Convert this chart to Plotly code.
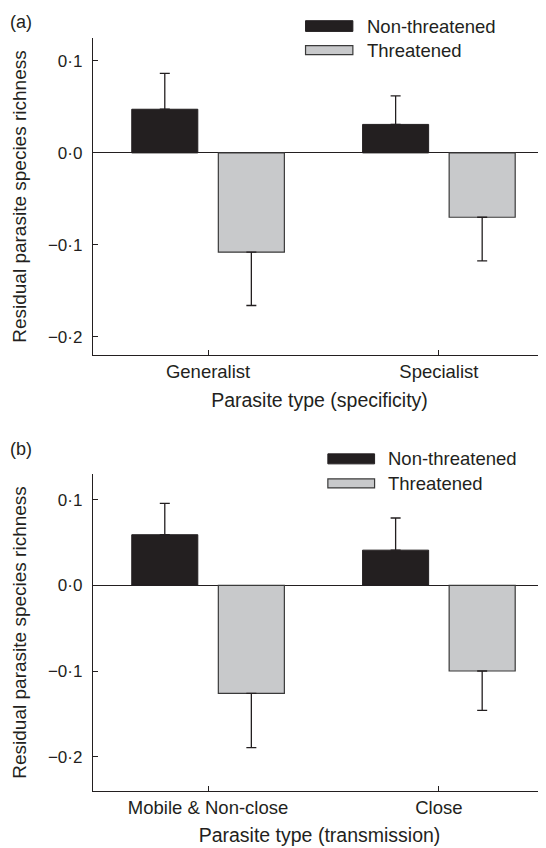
import plotly.graph_objects as go
from plotly.subplots import make_subplots

# ---- data ----
categories_a = ["Generalist", "Specialist"]
nonthreat_a = [0.0475, 0.031]
nonthreat_a_err = [0.039, 0.031]
threat_a = [-0.108, -0.070]
threat_a_err = [0.058, 0.0475]

categories_b = ["Mobile & Non-close", "Close"]
nonthreat_b = [0.059, 0.041]
nonthreat_b_err = [0.0365, 0.0375]
threat_b = [-0.126, -0.100]
threat_b_err = [0.0635, 0.046]

series_names = ["Non-threatened", "Threatened"]
y_tickvals = [-0.2, -0.1, 0.0, 0.1]
y_ticktext = ["\u22120\u00b72", "\u22120\u00b71", "0\u00b70", "0\u00b71"]
xtitle_a = "Parasite type (specificity)"
xtitle_b = "Parasite type (transmission)"
ytitle = "Residual parasite species richness"

# ---- style ----
FONT = "Liberation Sans, Arial, sans-serif"
DARK = "#231f20"
GRAY = "#c8c9cb"
OFF = 8  # page body margin
W, H = 546 - OFF, 848 - OFF
ML, MR, MT, MB = 93.3 - OFF, 0, 38.3 - OFF, 848 - 791
PW, PH = W - ML - MR, H - MT - MB


def px_x(p):
    return (p - OFF - ML) / PW


def px_y(p):
    return (H - MB - (p - OFF)) / PH


fig = make_subplots(rows=2, cols=1)

for row, cats, nt, nte, t, te in [
    (1, categories_a, nonthreat_a, nonthreat_a_err, threat_a, threat_a_err),
    (2, categories_b, nonthreat_b, nonthreat_b_err, threat_b, threat_b_err),
]:
    fig.add_trace(go.Bar(
        x=cats, y=nt, name=series_names[0], showlegend=False,
        marker=dict(color=DARK, line=dict(color=DARK, width=1)),
        error_y=dict(type="data", symmetric=False, array=nte,
                     arrayminus=[0] * len(nte), color=DARK,
                     thickness=1.3, width=5),
    ), row=row, col=1)
    fig.add_trace(go.Bar(
        x=cats, y=t, name=series_names[1], showlegend=False,
        marker=dict(color=GRAY, line=dict(color="#3a3a3a", width=1.2)),
        error_y=dict(type="data", symmetric=False, array=[0] * len(te),
                     arrayminus=te, color=DARK, thickness=1.3, width=5),
    ), row=row, col=1)

# domains (reference pixel rows)
ya_top, ya_bot = 38.3, 355.3
yb_top, yb_bot = 474, 791
fig.update_layout(
    yaxis=dict(domain=[max(0, px_y(ya_bot)), min(1, px_y(ya_top))]),
    yaxis2=dict(domain=[max(0, px_y(yb_bot)), min(1, px_y(yb_top))]),
)

common_x = dict(
    showline=True, linecolor=DARK, linewidth=1.3, ticks="inside",
    ticklen=5, tickwidth=1.2, tickcolor=DARK, showgrid=False,
    tickfont=dict(family=FONT, size=18.5, color=DARK),
    range=[-0.4985, 1.464], zeroline=False,
)
common_y = dict(
    showline=True, linecolor=DARK, linewidth=1.3, ticks="inside",
    ticklen=5, tickwidth=1.2, tickcolor=DARK, showgrid=False,
    tickfont=dict(family=FONT, size=17, color=DARK),
    tickvals=y_tickvals, ticktext=y_ticktext,
    zeroline=True, zerolinecolor=DARK, zerolinewidth=1.2,
    ticklabelstandoff=6,
)

fig.update_xaxes(**common_x)
fig.update_yaxes(**common_y)
TF = dict(family=FONT, size=19.5, color=DARK)
YF = dict(family=FONT, size=19, color=DARK)
fig.update_xaxes(title=dict(text=xtitle_a, font=TF, standoff=11), row=1, col=1)
fig.update_xaxes(title=dict(text=xtitle_b, font=TF, standoff=11), row=2, col=1)
fig.update_yaxes(range=[-0.22, 0.125], title=dict(text=ytitle, font=YF, standoff=16), row=1, col=1)
fig.update_yaxes(range=[-0.24, 0.13], title=dict(text=ytitle, font=YF, standoff=16), row=2, col=1)

# manual legends (wide swatches) and panel labels
shapes = []
annotations = []
for (x0, x1, ytop1, ybot1, ytop2, ybot2, tx) in [
    (305.7, 353, 21, 31.7, 46, 55, 364.7),
    (328, 374.7, 454, 464, 479, 488, 386.3),
]:
    shapes.append(dict(type="rect", xref="paper", yref="paper",
                       x0=px_x(x0), x1=px_x(x1), y0=px_y(ybot1), y1=px_y(ytop1),
                       fillcolor=DARK, line=dict(color=DARK, width=1)))
    shapes.append(dict(type="rect", xref="paper", yref="paper",
                       x0=px_x(x0), x1=px_x(x1), y0=px_y(ybot2), y1=px_y(ytop2),
                       fillcolor=GRAY, line=dict(color="#3a3a3a", width=1.2)))
    for name, yc in [(series_names[0], (ytop1 + ybot1) / 2), (series_names[1], (ytop2 + ybot2) / 2)]:
        annotations.append(dict(text=name, xref="paper", yref="paper",
                                x=px_x(tx), y=px_y(yc), xanchor="left", yanchor="middle",
                                showarrow=False, font=dict(family=FONT, size=18.5, color=DARK)))

for lab, xc, yc in [("(a)", 21.3, 22), ("(b)", 21.5, 449.5)]:
    annotations.append(dict(text=lab, xref="paper", yref="paper",
                            x=px_x(xc), y=px_y(yc), xanchor="center", yanchor="middle",
                            showarrow=False, font=dict(family=FONT, size=18, color=DARK)))

fig.update_layout(
    width=W, height=H,
    margin=dict(l=ML, r=MR, t=MT, b=MB),
    paper_bgcolor="white", plot_bgcolor="white",
    barmode="group", bargap=0.25, bargroupgap=0.237,
    showlegend=False,
    shapes=shapes, annotations=annotations,
    font=dict(family=FONT, color=DARK),
)

fig.write_html("out.html")
